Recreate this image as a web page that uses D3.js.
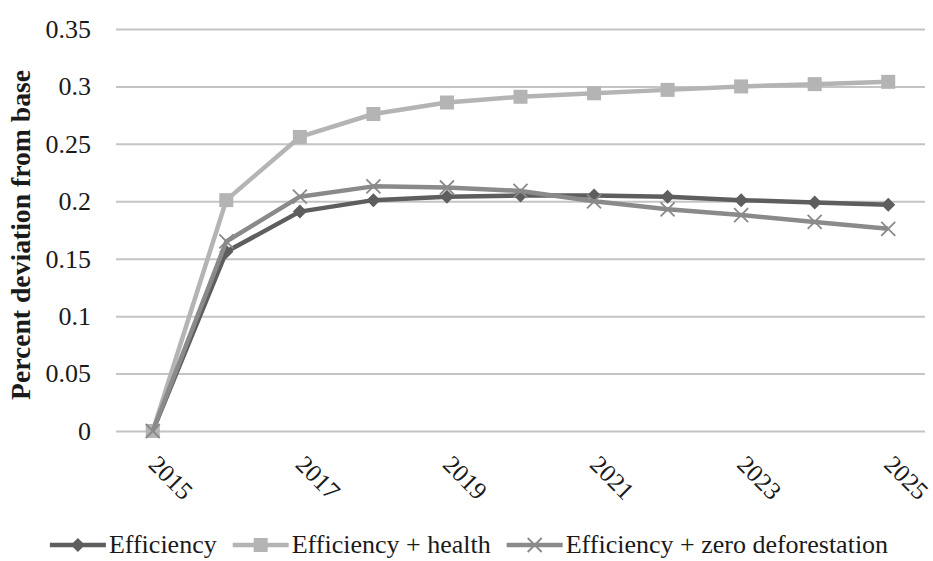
<!DOCTYPE html>
<html>
<head>
<meta charset="utf-8">
<script src="https://cdn.jsdelivr.net/npm/d3@7"></script>
<style>
  html, body { margin: 0; padding: 0; background: #fff; }
  svg { display: block; }
  text { font-family: "Liberation Serif", "Times New Roman", serif; fill: #1a1a1a; }
</style>
</head>
<body>
<script>
const years = [2015, 2016, 2017, 2018, 2019, 2020, 2021, 2022, 2023, 2024, 2025];
const xTickLabels = [2015, 2017, 2019, 2021, 2023, 2025];
const yTickValues = [0, 0.05, 0.1, 0.15, 0.2, 0.25, 0.3, 0.35];
const seriesNames = ["Efficiency", "Efficiency + health", "Efficiency + zero deforestation"];
const efficiency = [0, 0.156, 0.191, 0.201, 0.204, 0.205, 0.205, 0.204, 0.201, 0.199, 0.197];
const efficiencyHealth = [0, 0.201, 0.256, 0.276, 0.286, 0.291, 0.294, 0.297, 0.300, 0.302, 0.304];
const efficiencyZeroDef = [0, 0.165, 0.204, 0.213, 0.212, 0.209, 0.200, 0.193, 0.188, 0.182, 0.176];
const yTitle = "Percent deviation from base";

const W = 933, H = 561;
const plotLeft = 116, plotRight = 925, plotTop = 29, plotBottom = 431;

const series = [
  { name: seriesNames[0], values: efficiency, color: "#5e5e5e", marker: "diamond" },
  { name: seriesNames[1], values: efficiencyHealth, color: "#b4b4b4", marker: "square" },
  { name: seriesNames[2], values: efficiencyZeroDef, color: "#8a8a8a", marker: "x" }
];

const svg = d3.select("body").append("svg").attr("width", W).attr("height", H);

const x = d3.scalePoint().domain(years).range([plotLeft, plotRight]).padding(0.5);
const y = d3.scaleLinear().domain([0, 0.35]).range([plotBottom, plotTop]);

// Y axis with gridlines
const yAxis = d3.axisLeft(y)
  .tickValues(yTickValues)
  .tickSize(-(plotRight - plotLeft))
  .tickPadding(25)
  .tickFormat(d => String(+d.toFixed(2)));
const gy = svg.append("g").attr("transform", `translate(${plotLeft},0)`).call(yAxis);
gy.select(".domain").remove();
gy.selectAll(".tick line").attr("stroke", "#c4c4c4").attr("stroke-width", 2);
gy.selectAll(".tick text").attr("font-size", 26).attr("fill", "#1a1a1a")
  .style("font-family", "'Liberation Serif', serif");

// X axis labels (rotated)
const xAxis = d3.axisBottom(x).tickValues(xTickLabels).tickSize(0).tickPadding(0);
const gx = svg.append("g").attr("transform", `translate(0,${plotBottom})`).call(xAxis);
gx.select(".domain").remove();
gx.selectAll(".tick text")
  .attr("font-size", 25).attr("fill", "#1a1a1a")
  .style("font-family", "'Liberation Serif', serif")
  .attr("text-anchor", "start")
  .attr("y", 0).attr("dy", 0)
  .attr("transform", "translate(-6,35) rotate(45)");

// Y title
svg.append("text")
  .attr("transform", `translate(30,${(70 + 400) / 2}) rotate(-90)`)
  .attr("text-anchor", "middle")
  .attr("font-size", 27).attr("font-weight", "bold")
  .attr("textLength", 330).attr("lengthAdjust", "spacingAndGlyphs")
  .text(yTitle);

const line = d3.line().x((d, i) => x(years[i])).y(d => y(d));

function drawMarker(g, type, color, cx, cy) {
  if (type === "diamond") {
    g.append("path").attr("d", `M${cx},${cy - 7}L${cx + 7},${cy}L${cx},${cy + 7}L${cx - 7},${cy}Z`)
      .attr("fill", color);
  } else if (type === "square") {
    g.append("rect").attr("x", cx - 7).attr("y", cy - 7).attr("width", 14).attr("height", 14)
      .attr("fill", color);
  } else {
    g.append("path").attr("d", `M${cx - 7},${cy - 7}L${cx + 7},${cy + 7}M${cx - 7},${cy + 7}L${cx + 7},${cy - 7}`)
      .attr("stroke", color).attr("stroke-width", 1.8).attr("fill", "none");
  }
}

series.forEach(s => {
  const g = svg.append("g");
  g.append("path").datum(s.values).attr("d", line)
    .attr("fill", "none").attr("stroke", s.color).attr("stroke-width", 4.5)
    .attr("stroke-linejoin", "round");
  s.values.forEach((v, i) => drawMarker(g, s.marker, s.color, x(years[i]), y(v)));
});

// Legend
const legY = 545;
const legend = svg.append("g");
const items = [];
series.forEach(s => {
  const g = legend.append("g");
  g.append("line").attr("x1", 0).attr("x2", 56).attr("y1", 0).attr("y2", 0)
    .attr("stroke", s.color).attr("stroke-width", 4.5);
  drawMarker(g, s.marker, s.color, 28, 0);
  const t = g.append("text").attr("x", 59).attr("y", 0).attr("dy", "0.32em")
    .attr("font-size", 26).text(s.name);
  const w = 59 + t.node().getComputedTextLength();
  items.push({ g, w });
});
const gap = 16;
const total = d3.sum(items, d => d.w) + gap * (items.length - 1);
let start = 469 - total / 2;
items.forEach(it => {
  it.g.attr("transform", `translate(${start},${legY})`);
  start += it.w + gap;
});
</script>
</body>
</html>
